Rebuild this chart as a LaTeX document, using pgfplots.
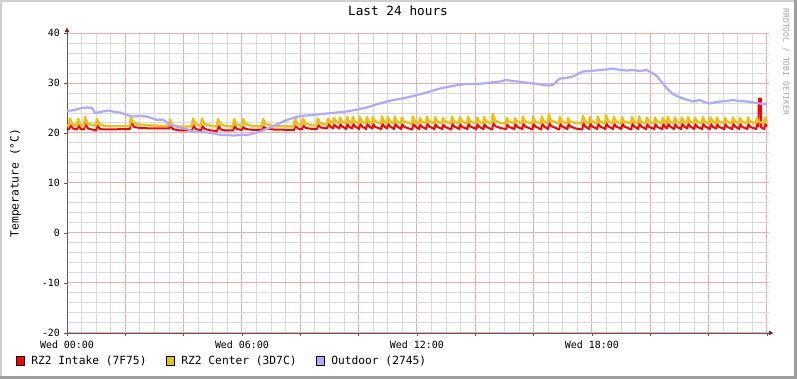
\documentclass[border=0pt]{standalone}
\usepackage{fontspec}
\setmainfont{DejaVu Sans Mono}
\usepackage{pgfplots}
\pgfplotsset{compat=1.18}
\usetikzlibrary{arrows.meta}
\definecolor{cRed}{RGB}{255,0,0}
\definecolor{cYel}{RGB}{234,193,23}
\definecolor{cBlu}{RGB}{170,170,255}
\definecolor{cMaj}{RGB}{240,170,170}
\definecolor{cMin}{RGB}{218,218,218}
\definecolor{cAx}{RGB}{96,90,90}
\definecolor{cArr}{RGB}{128,32,32}
\definecolor{cFrL}{RGB}{208,208,208}
\definecolor{cFrD}{RGB}{158,158,158}
\begin{document}
\begin{tikzpicture}
\useasboundingbox (0bp,0bp) rectangle (797bp,379bp);
\fill[white] (0bp,0bp) rectangle (797bp,379bp);
\fill[cFrL] (0bp,377bp) rectangle (797bp,379bp);
\fill[cFrL] (0bp,0bp) rectangle (2bp,379bp);
\fill[cFrD] (794bp,0bp) rectangle (797bp,379bp);
\fill[cFrD] (0bp,0bp) rectangle (797bp,3bp);
\begin{axis}[
  at={(67bp,146bp)}, anchor=origin,
  scale only axis, width=702bp, height=300bp,
  xmin=0, xmax=24.07, ymin=-20, ymax=40,
  axis lines=left,
  x axis line style={draw=cAx, line width=0.9bp, -{Latex[length=5bp,width=5bp,color=cArr]}, shorten >=-5bp},
  y axis line style={draw=cAx, line width=0.9bp, -{Latex[length=5bp,width=5bp,color=cArr]}, shorten >=-6bp},
  xtick={0,2,...,24},
  xticklabels={Wed 00:00,,,Wed 06:00,,,Wed 12:00,,,Wed 18:00,,,},
  minor x tick num=3,
  ytick={-20,-10,...,40},
  yticklabels={-20,-10,0,10,20,30,40},
  minor y tick num=4,
  grid=both,
  major grid style={draw=cMaj, line width=1bp},
  minor grid style={draw=cMin, line width=1bp},
  tick align=outside,
  major tick length=3bp, minor tick length=0bp,
  tick style={draw=cAx, line width=0.9bp},
  tick label style={font=\fontsize{10}{12}\selectfont, inner sep=0pt},
  yticklabel style={anchor=east, xshift=-4bp},
  xticklabel style={anchor=north, yshift=-5bp},
  ylabel={Temperature (°C)},
  ylabel style={at={(axis description cs:-0.0734,0.5)}, anchor=center, font=\fontsize{11.3}{13}\selectfont},
  title={Last 24 hours},
  title style={at={(axis description cs:0.4715,1.04)}, anchor=base, font=\fontsize{12.8}{15}\selectfont},
  legend columns=3,
  legend style={at={(axis description cs:-0.0726,-0.0933)}, anchor=west, draw=none, fill=none, inner sep=0pt, outer sep=0pt, font=\fontsize{11.3}{13}\selectfont, nodes={inner sep=0pt}, /tikz/every even column/.append style={column sep=19.3bp}},
  legend cell align=left,
]
\addplot[cRed, line width=2bp, line join=round, legend image code/.code={\draw[fill=cRed, draw=black, line width=0.6bp] (0bp,-4.2bp) rectangle (8.4bp,4.2bp); \path (14bp,0bp);}] table[row sep=\\] {
x y\\
0.00 20.9\\ 0.07 20.7\\ 0.11 21.7\\ 0.20 20.9\\ 0.35 20.7\\ 0.39 21.6\\ 0.47 20.8\\ 0.59 20.7\\ 0.63 21.8\\ 0.72 20.9\\
1.00 20.5\\ 1.04 21.5\\ 1.13 20.8\\ 1.30 20.7\\ 2.16 20.8\\ 2.20 22.2\\ 2.30 21.2\\ 2.50 21.0\\ 3.00 20.9\\ 3.50 20.9\\
3.54 21.6\\ 3.62 20.8\\ 3.85 20.5\\ 4.29 20.5\\ 4.33 21.5\\ 4.42 20.8\\ 4.60 20.5\\ 4.64 21.4\\ 4.73 20.8\\ 4.95 20.5\\
5.15 20.4\\ 5.19 21.4\\ 5.28 20.7\\ 5.45 20.5\\ 5.70 20.5\\ 5.74 21.4\\ 5.83 20.8\\ 6.00 20.6\\ 6.04 21.2\\ 6.13 20.8\\
6.40 20.6\\ 6.69 20.6\\ 6.73 21.3\\ 6.82 20.9\\ 7.10 20.7\\ 7.79 20.6\\ 7.83 21.4\\ 7.92 20.9\\ 8.06 20.7\\ 8.10 21.5\\
8.19 21.0\\ 8.42 20.8\\ 8.57 20.8\\ 8.61 21.6\\ 8.70 21.1\\ 8.92 20.9\\
8.96 21.8\\ 9.03 21.3\\ 9.13 20.9\\ 9.16 21.7\\ 9.23 21.3\\ 9.34 20.9\\ 9.37 21.8\\ 9.44 21.3\\ 9.58 20.8\\
9.61 21.8\\ 9.68 21.2\\ 9.78 20.9\\ 9.81 21.9\\ 9.88 21.3\\ 10.02 20.8\\ 10.05 21.8\\ 10.12 21.3\\ 10.26 20.8\\
10.29 21.9\\ 10.36 21.3\\ 10.47 20.9\\ 10.50 21.8\\ 10.57 21.2\\ 10.78 20.8\\ 10.81 21.9\\ 10.88 21.3\\ 10.98 20.9\\
11.01 21.8\\ 11.08 21.3\\ 11.22 20.8\\ 11.25 21.9\\ 11.32 21.3\\ 11.46 20.8\\ 11.49 21.8\\ 11.56 21.2\\ 11.84 20.7\\
11.87 21.9\\ 11.94 21.3\\ 12.08 20.8\\ 12.11 21.7\\ 12.18 21.2\\ 12.32 20.8\\ 12.35 21.9\\ 12.42 21.3\\ 12.60 20.8\\
12.63 21.8\\ 12.70 21.2\\ 12.87 20.8\\ 12.90 21.7\\ 12.97 21.2\\ 13.18 20.7\\ 13.21 21.9\\ 13.28 21.3\\ 13.45 20.8\\
13.48 21.8\\ 13.55 21.2\\ 13.73 20.8\\ 13.76 21.9\\ 13.83 21.3\\ 14.04 20.8\\ 14.07 21.8\\ 14.14 21.2\\ 14.28 20.8\\
14.31 21.8\\ 14.38 21.2\\ 14.58 20.7\\ 14.61 22.1\\ 14.68 21.4\\ 14.85 21.0\\ 15.06 20.8\\
15.09 21.7\\ 15.16 21.2\\ 15.34 20.8\\ 15.37 21.8\\ 15.44 21.2\\ 15.61 20.8\\ 15.64 21.9\\ 15.71 21.3\\ 15.96 20.7\\
15.99 21.9\\ 16.06 21.3\\ 16.26 20.7\\ 16.29 21.9\\ 16.36 21.3\\ 16.50 20.8\\ 16.53 22.1\\ 16.60 21.4\\ 16.88 20.7\\
16.91 21.9\\ 16.98 21.3\\ 17.16 20.8\\ 17.19 21.8\\ 17.26 21.3\\ 17.45 20.9\\ 17.67 20.7\\
17.70 22.0\\ 17.77 21.3\\ 17.91 20.8\\ 17.94 21.9\\ 18.01 21.3\\ 18.18 20.8\\ 18.21 21.9\\ 18.28 21.3\\ 18.46 20.8\\
18.49 22.0\\ 18.56 21.3\\ 18.73 20.8\\ 18.76 21.9\\ 18.83 21.3\\ 19.01 20.8\\ 19.04 21.9\\ 19.11 21.3\\ 19.35 20.7\\
19.38 21.9\\ 19.45 21.3\\ 19.59 20.8\\ 19.62 21.9\\ 19.69 21.3\\ 19.86 20.8\\ 19.89 21.8\\ 19.96 21.2\\ 20.14 20.8\\
20.17 21.8\\ 20.24 21.2\\ 20.41 20.8\\ 20.44 21.8\\ 20.51 21.2\\ 20.58 20.9\\ 20.61 21.9\\ 20.68 21.3\\ 20.82 20.8\\
20.85 21.8\\ 20.92 21.2\\ 21.06 20.8\\ 21.09 21.9\\ 21.16 21.3\\ 21.27 20.9\\ 21.30 21.9\\ 21.37 21.3\\ 21.51 20.8\\
21.54 21.8\\ 21.61 21.2\\ 21.78 20.8\\ 21.81 21.9\\ 21.88 21.3\\ 22.05 20.8\\ 22.08 21.8\\ 22.15 21.2\\ 22.26 20.9\\
22.29 21.8\\ 22.36 21.2\\ 22.54 20.8\\ 22.57 21.8\\ 22.64 21.2\\ 22.81 20.8\\ 22.84 21.9\\ 22.91 21.3\\ 23.05 20.8\\
23.08 21.8\\ 23.15 21.2\\ 23.33 20.8\\ 23.36 21.8\\ 23.43 21.2\\ 23.63 20.8\\ 23.66 21.8\\ 23.71 21.3\\
23.72 26.9\\ 23.79 26.9\\ 23.80 21.1\\ 23.91 20.8\\ 23.94 21.8\\ 24.00 21.3\\
};
\addlegendentry{RZ2 Intake (7F75)}
\addplot[cYel, line width=2.4bp, line join=round, legend image code/.code={\draw[fill=cYel, draw=black, line width=0.6bp] (0bp,-4.2bp) rectangle (8.4bp,4.2bp); \path (14bp,0bp);}] table[row sep=\\] {
x y\\
0.00 21.5\\ 0.07 21.5\\ 0.10 22.9\\ 0.17 21.8\\ 0.34 21.4\\ 0.38 22.9\\ 0.45 21.7\\ 0.58 21.4\\ 0.62 23.2\\ 0.70 21.9\\
0.99 21.4\\ 1.03 22.8\\ 1.11 21.8\\ 1.30 21.4\\ 2.15 21.4\\ 2.19 23.2\\ 2.27 22.1\\ 2.45 21.7\\ 2.90 21.5\\ 3.49 21.4\\
3.53 22.7\\ 3.60 21.6\\ 3.80 21.3\\ 4.28 21.3\\ 4.32 22.9\\ 4.40 21.8\\ 4.59 21.4\\ 4.63 22.9\\ 4.71 21.8\\ 4.95 21.4\\
5.14 21.3\\ 5.18 22.8\\ 5.26 21.7\\ 5.45 21.4\\ 5.69 21.3\\ 5.73 22.8\\ 5.81 21.7\\ 5.99 21.4\\ 6.03 22.8\\ 6.11 21.8\\
6.35 21.4\\ 6.68 21.3\\ 6.72 22.8\\ 6.80 21.8\\ 7.05 21.4\\ 7.78 21.3\\ 7.82 22.9\\ 7.90 21.8\\ 8.05 21.5\\ 8.09 22.9\\
8.17 21.9\\ 8.40 21.5\\ 8.56 21.5\\ 8.60 22.9\\ 8.68 22.0\\ 8.91 21.6\\
8.95 22.9\\ 9.02 22.3\\ 9.12 21.9\\ 9.15 23.0\\ 9.22 22.3\\ 9.33 21.9\\ 9.36 23.1\\ 9.43 22.3\\ 9.57 21.9\\
9.60 23.2\\ 9.67 22.3\\ 9.77 21.9\\ 9.80 23.2\\ 9.87 22.3\\ 10.01 21.9\\ 10.04 23.2\\ 10.11 22.3\\ 10.25 21.9\\
10.28 23.2\\ 10.35 22.3\\ 10.46 21.9\\ 10.49 23.2\\ 10.56 22.3\\ 10.77 21.9\\ 10.80 23.3\\ 10.87 22.3\\ 10.97 21.9\\
11.00 23.2\\ 11.07 22.3\\ 11.21 21.9\\ 11.24 23.3\\ 11.31 22.3\\ 11.45 21.9\\ 11.48 23.1\\ 11.55 22.3\\ 11.83 21.8\\
11.86 23.3\\ 11.93 22.3\\ 12.07 21.9\\ 12.10 23.0\\ 12.17 22.3\\ 12.31 21.9\\ 12.34 23.3\\ 12.41 22.3\\ 12.59 21.9\\
12.62 23.2\\ 12.69 22.3\\ 12.86 21.9\\ 12.89 23.0\\ 12.96 22.3\\ 13.17 21.9\\ 13.20 23.3\\ 13.27 22.3\\ 13.44 21.9\\
13.47 23.2\\ 13.54 22.3\\ 13.72 21.9\\ 13.75 23.3\\ 13.82 22.3\\ 14.03 21.9\\ 14.06 23.1\\ 14.13 22.3\\ 14.27 21.9\\
14.30 23.2\\ 14.37 22.3\\ 14.57 21.9\\ 14.60 23.8\\ 14.67 22.5\\ 14.85 22.0\\ 15.05 21.9\\
15.08 23.0\\ 15.15 22.3\\ 15.33 21.9\\ 15.36 23.0\\ 15.43 22.3\\ 15.60 21.9\\ 15.63 23.3\\ 15.70 22.3\\ 15.95 21.9\\
15.98 23.3\\ 16.05 22.3\\ 16.25 21.9\\ 16.28 23.3\\ 16.35 22.3\\ 16.49 21.9\\ 16.52 23.8\\ 16.59 22.5\\ 16.87 21.9\\
16.90 23.2\\ 16.97 22.3\\ 17.15 21.9\\ 17.18 23.0\\ 17.25 22.3\\ 17.45 22.0\\ 17.66 21.9\\
17.69 23.4\\ 17.76 22.3\\ 17.90 21.9\\ 17.93 23.2\\ 18.00 22.3\\ 18.17 21.9\\ 18.20 23.3\\ 18.27 22.3\\ 18.45 21.9\\
18.48 23.6\\ 18.55 22.4\\ 18.72 21.9\\ 18.75 23.2\\ 18.82 22.3\\ 19.00 21.9\\ 19.03 23.2\\ 19.10 22.3\\ 19.34 21.9\\
19.37 23.2\\ 19.44 22.3\\ 19.58 21.9\\ 19.61 23.3\\ 19.68 22.3\\ 19.85 21.9\\ 19.88 23.1\\ 19.95 22.3\\ 20.13 21.9\\
20.16 23.1\\ 20.23 22.3\\ 20.40 21.9\\ 20.43 23.0\\ 20.50 22.3\\ 20.57 21.9\\ 20.60 23.2\\ 20.67 22.3\\ 20.81 21.9\\
20.84 23.1\\ 20.91 22.3\\ 21.05 21.9\\ 21.08 23.1\\ 21.15 22.3\\ 21.26 21.9\\ 21.29 23.2\\ 21.36 22.3\\ 21.50 21.9\\
21.53 23.1\\ 21.60 22.3\\ 21.77 21.9\\ 21.80 23.2\\ 21.87 22.3\\ 22.04 21.9\\ 22.07 23.1\\ 22.14 22.3\\ 22.25 21.9\\
22.28 23.1\\ 22.35 22.3\\ 22.53 21.9\\ 22.56 23.0\\ 22.63 22.3\\ 22.80 21.9\\ 22.83 23.1\\ 22.90 22.3\\ 23.04 21.9\\
23.07 23.0\\ 23.14 22.3\\ 23.32 21.9\\ 23.35 23.1\\ 23.42 22.3\\ 23.62 21.9\\ 23.65 23.0\\ 23.72 22.3\\ 23.90 21.9\\
23.93 23.1\\ 24.00 22.4\\
};
\addlegendentry{RZ2 Center (3D7C)}
\addplot[cBlu, line width=2.2bp, line join=round, legend image code/.code={\draw[fill=cBlu, draw=black, line width=0.6bp] (0bp,-4.2bp) rectangle (8.4bp,4.2bp); \path (14bp,0bp);}] table[row sep=\\] {
x y\\
0.00 24.4\\ 0.27 24.6\\ 0.50 25.0\\ 0.69 25.1\\ 0.86 25.0\\ 0.96 24.0\\ 1.13 24.2\\ 1.41 24.5\\ 1.65 24.2\\ 1.82 24.1\\
2.06 23.6\\ 2.26 23.3\\ 2.50 23.4\\ 2.74 23.3\\ 3.09 22.6\\ 3.29 22.7\\ 3.53 21.6\\ 3.87 21.1\\ 4.10 20.8\\ 4.32 20.3\\
4.55 20.2\\ 4.80 20.1\\ 5.05 19.9\\ 5.25 19.6\\ 5.50 19.6\\ 5.69 19.5\\ 5.90 19.6\\ 6.17 19.6\\ 6.40 19.9\\ 6.62 20.3\\
6.85 20.8\\ 7.06 21.3\\ 7.30 22.0\\ 7.54 22.6\\ 7.75 23.0\\ 7.99 23.4\\ 8.20 23.5\\ 8.43 23.6\\ 8.70 23.8\\ 8.91 23.9\\
9.25 24.1\\ 9.60 24.3\\ 9.95 24.7\\ 10.28 25.1\\ 10.60 25.7\\ 10.97 26.3\\ 11.20 26.6\\ 11.42 26.8\\ 11.80 27.3\\
12.20 27.9\\ 12.55 28.5\\ 12.85 29.0\\ 13.13 29.3\\ 13.40 29.6\\ 13.71 29.8\\ 14.00 29.8\\ 14.26 29.9\\ 14.55 30.1\\
14.84 30.3\\ 15.08 30.6\\ 15.25 30.4\\ 15.43 30.3\\ 15.70 30.1\\ 15.98 29.9\\ 16.15 29.8\\ 16.32 29.6\\ 16.50 29.5\\
16.66 29.6\\ 16.80 30.4\\ 16.90 30.9\\ 17.10 31.0\\ 17.35 31.3\\ 17.55 31.9\\ 17.69 32.3\\ 17.95 32.4\\ 18.27 32.6\\
18.50 32.7\\ 18.72 32.9\\ 18.95 32.6\\ 19.20 32.5\\ 19.40 32.6\\ 19.65 32.4\\ 19.88 32.6\\ 20.09 31.9\\ 20.22 31.4\\
20.33 30.6\\ 20.45 29.8\\ 20.57 28.9\\ 20.77 27.8\\ 20.95 27.3\\ 21.12 26.9\\ 21.30 26.6\\ 21.46 26.3\\ 21.70 26.6\\
21.85 26.2\\ 22.04 25.9\\ 22.20 26.1\\ 22.39 26.3\\ 22.60 26.4\\ 22.83 26.6\\ 23.05 26.4\\ 23.31 26.3\\ 23.55 26.1\\
23.75 25.9\\ 23.86 25.8\\ 24.00 25.9\\
};
\addlegendentry{Outdoor (2745)}
\end{axis}
\node[rotate=-90, text=black!35, font=\fontsize{8.1}{9}\selectfont, inner sep=0pt] at (786bp,317bp) {RRDTOOL / TOBI OETIKER};
\end{tikzpicture}
\end{document}
